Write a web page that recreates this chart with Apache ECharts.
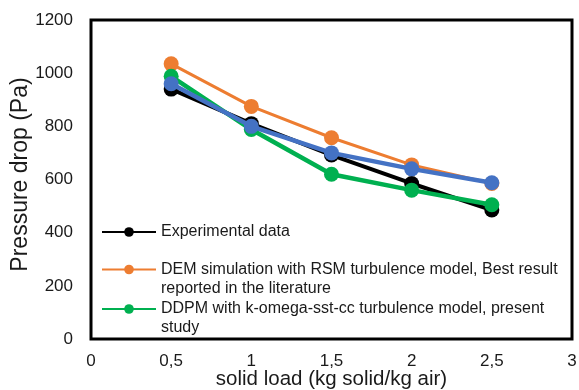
<!DOCTYPE html>
<html>
<head>
<meta charset="utf-8">
<script src="https://cdn.jsdelivr.net/npm/echarts@6/dist/echarts.min.js"></script>
<style>
  html, body { margin: 0; padding: 0; background: #fff; }
  #chart { width: 579px; height: 390px; }
</style>
</head>
<body>
<div id="chart"></div>
<script>
// Solid load (kg solid / kg air)
const solidLoad = [0.5, 1, 1.5, 2, 2.5];

// Pressure drop (Pa) per data set
const experimental = [940, 810, 692, 585, 485];
const demRsm = [1035, 875, 757, 655, 585];
const ddpmPresent = [988, 788, 620, 560, 505];
const ddpmRefined = [960, 800, 700, 640, 588];

const seriesNames = [
  'Experimental data',
  'DEM simulation with RSM turbulence model, Best result reported in the literature',
  'DDPM with k-omega-sst-cc turbulence model, present study',
  'DDPM refined'
];
// Legend labels; multi-line entries get a blank leading line so the
// marker sits level with their first line of text
const legendText = [
  'Experimental data',
  '{s| }\nDEM simulation with RSM turbulence model, Best result\nreported in the literature',
  '{s| }\nDDPM with k-omega-sst-cc turbulence model, present\nstudy'
];

const xTicks = [0, 0.5, 1, 1.5, 2, 2.5, 3];
const yTicks = [0, 200, 400, 600, 800, 1000, 1200];

const FONT = '"Liberation Sans", Arial, sans-serif';
const colors = ['#000000', '#ED7D31', '#00B050', '#4472C4'];
const widths = [4, 3, 4.5, 4.5];

function pairs(ys) { return solidLoad.map((x, i) => [x, ys[i]]); }

const chart = echarts.init(document.getElementById('chart'), null, { renderer: 'canvas' });

function lineSeries(idx, ys) {
  return {
    name: seriesNames[idx],
    type: 'line',
    data: pairs(ys),
    symbol: 'circle',
    symbolSize: 15,
    color: colors[idx],
    lineStyle: { color: colors[idx], width: widths[idx] },
    itemStyle: { color: colors[idx] },
    z: 2 + idx,
    animation: false
  };
}

function legendFor(idx, top) {
  return {
    data: [seriesNames[idx]],
    left: 101,
    top: top,
    padding: 0,
    itemWidth: 54,
    itemHeight: 12,
    itemGap: 0,
    selectedMode: false,
    formatter: () => legendText[idx],
    textStyle: {
      fontFamily: FONT,
      fontSize: 16,
      color: '#1a1a1a',
      lineHeight: 19,
      rich: { s: { fontSize: 16, lineHeight: 19 } }
    }
  };
}

chart.setOption({
  backgroundColor: '#fff',
  animation: false,
  grid: {
    left: 91, right: 7, top: 20, bottom: 51,
    outerBoundsMode: 'none',
    containLabel: false,
    show: true, borderColor: '#000', borderWidth: 3, backgroundColor: 'transparent'
  },
  legend: [
    legendFor(0, 222.5),
    legendFor(1, 241),
    legendFor(2, 280.5)
  ],
  xAxis: {
    type: 'value',
    min: xTicks[0],
    max: xTicks[xTicks.length - 1],
    interval: 0.5,
    name: 'solid load (kg solid/kg air)',
    nameLocation: 'middle',
    nameGap: 30,
    nameMoveOverlap: false,
    nameTextStyle: { fontFamily: FONT, fontSize: 20.5, color: '#1a1a1a' },
    axisLine: { show: false },
    axisTick: { show: false },
    splitLine: { show: false },
    axisLabel: {
      fontFamily: FONT, fontSize: 17, color: '#1a1a1a', margin: 14,
      formatter: v => String(v).replace('.', ',')
    }
  },
  yAxis: {
    type: 'value',
    min: yTicks[0],
    max: yTicks[yTicks.length - 1],
    interval: 200,
    name: 'Pressure drop (Pa)',
    nameLocation: 'middle',
    nameGap: 59,
    nameMoveOverlap: false,
    nameTextStyle: { fontFamily: FONT, fontSize: 23, color: '#1a1a1a', padding: [0, 0, 0, 10] },
    axisLine: { show: false },
    axisTick: { show: false },
    splitLine: { show: false },
    axisLabel: {
      fontFamily: FONT, fontSize: 17, color: '#1a1a1a', margin: 18,
      formatter: v => String(v)
    }
  },
  series: [
    lineSeries(0, experimental),
    lineSeries(1, demRsm),
    lineSeries(2, ddpmPresent),
    lineSeries(3, ddpmRefined)
  ]
});
</script>
</body>
</html>
